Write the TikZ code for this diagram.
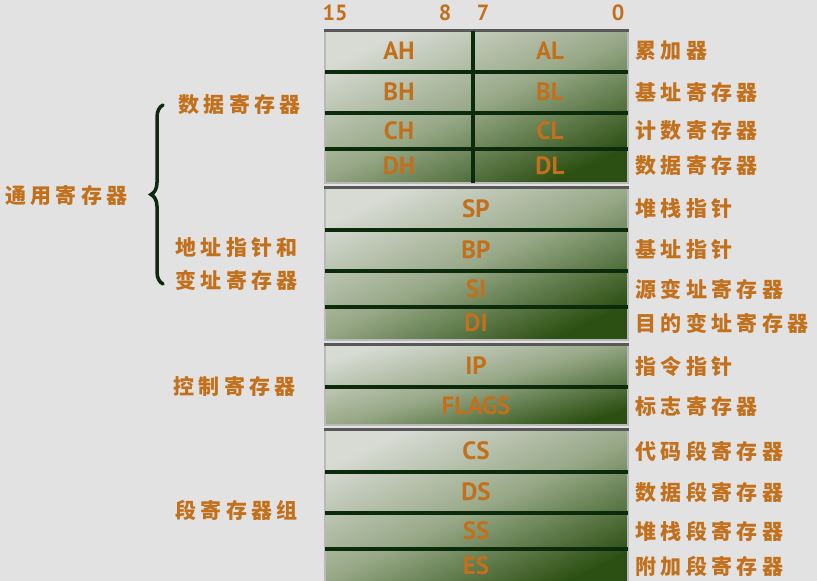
\documentclass[tikz,border=0pt]{standalone}
\usepackage{fontspec}
\setmainfont{PT Sans}
\newfontfamily\cjk{Noto Sans CJK SC}[LetterSpace=21.0]
\usetikzlibrary{decorations.pathreplacing}

\definecolor{bg}{HTML}{E2E2E2}
\definecolor{txt}{HTML}{C2701C}
\definecolor{regLight}{HTML}{D8DBD4}
\definecolor{regMid}{HTML}{97A887}
\definecolor{regDark}{HTML}{2C5013}
\definecolor{sep}{HTML}{0C2B0C}
\definecolor{edgeTop}{HTML}{585858}

\tikzset{
  regblock/.style={top color=regLight, bottom color=regDark, middle color=regMid,
    shading angle=25, draw=gray!55, line width=2pt},
  topedge/.style={draw=edgeTop, line width=3pt},
  sepline/.style={draw=sep, line width=4pt},
  regname/.style={text=txt, inner sep=0pt, font=\bfseries\fontsize{25}{25}\selectfont},
  cnlabel/.style={text=txt, inner sep=0pt, anchor=west, font=\cjk\bfseries\fontsize{21}{23}\selectfont},
  bitnum/.style={text=txt, inner sep=0pt, font=\bfseries\fontsize{22}{22}\selectfont},
}

\begin{document}
\begin{tikzpicture}[x=1pt,y=-1pt]

% page and background
\useasboundingbox (0,0) rectangle (817,581);
\fill[bg] (0,0) rectangle (817,581);
\clip (0,0) rectangle (817,581);

\def\xl{325}
\def\xr{628}
\def\xm{476}

% bit numbers
\node[bitnum] (b15) at (335,13) {15};
\node[bitnum] (b8) at (445,13) {8};
\node[bitnum] (b7) at (483,13) {7};
\node[bitnum] (b0) at (618,13) {0};

% register blocks
\shade[regblock] (\xl,30) rectangle (\xr,183);
\shade[regblock] (\xl,187) rectangle (\xr,340);
\shade[regblock, shading angle=16] (\xl,344) rectangle (\xr,425);
\shade[regblock] (\xl,429) rectangle (\xr,590);
\foreach \y in {30,187,344,429}
  \draw[topedge] (\xl-1,\y) -- (\xr+1,\y);

% separators
\foreach \y in {72,113,149,230,271,307,387,472,513,549}
  \draw[sepline] (\xl,\y) -- (\xr,\y);
\draw[sepline] (473,31) -- (473,183);

% data registers (8 bit halves)
\foreach \h/\l/\y/\t in {AH/AL/51/累加器, BH/BL/92/基址寄存器,
                        CH/CL/131/计数寄存器, DH/DL/166/数据寄存器}{
  \node[regname] (\h) at (399,\y) {\h};
  \node[regname] (\l) at (550,\y) {\l};
  \node[cnlabel] (l\l) at (635,\y) {\t};
}

% 16 bit registers
\foreach \n/\y/\t in {SP/209/堆栈指针, BP/250/基址指针, SI/289/源变址寄存器,
                     DI/323/目的变址寄存器, IP/366/指令指针, FLAGS/406/标志寄存器,
                     CS/451/代码段寄存器, DS/492/数据段寄存器,
                     SS/531/堆栈段寄存器, ES/566/附加段寄存器}{
  \node[regname] (\n) at (\xm,\y) {\n};
  \node[cnlabel] (l\n) at (635,\y) {\t};
}

% group names on the left
\node[cnlabel] (general) at (5,196) {通用寄存器};
\node[cnlabel] (datagrp) at (178,105) {数据寄存器};
\node[cnlabel] (ptrgrp) at (175,248) {地址指针和};
\node[cnlabel] (idxgrp) at (175,280) {变址寄存器};
\node[cnlabel] (ctrlgrp) at (173,386) {控制寄存器};
\node[cnlabel] (seggrp) at (175,510) {段寄存器组};

% brace
\coordinate (brB) at (163,284);
\coordinate (brT) at (163,105);
\draw[sep, line width=3.5pt, line cap=round, decorate,
      decoration={brace, amplitude=12pt}] (brB) -- (brT);

\end{tikzpicture}
\end{document}
